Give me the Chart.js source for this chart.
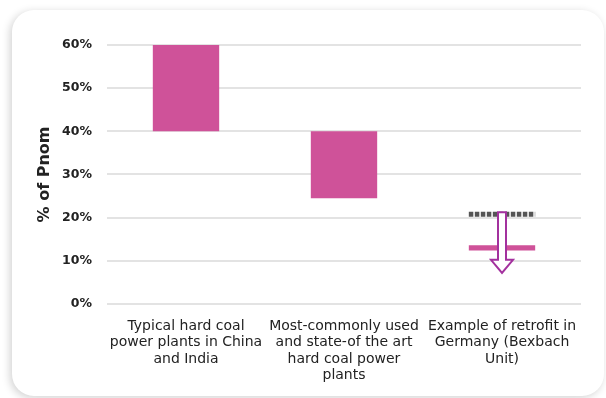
<!DOCTYPE html>
<html>
<head>
<meta charset="utf-8">
<script src="https://cdn.jsdelivr.net/npm/chart.js@4"></script>
<style>
  html, body { margin: 0; padding: 0; background: #ffffff; }
  body { width: 606px; height: 398px; position: relative; overflow: hidden; }
  .card {
    position: absolute; left: 12px; top: 10px; width: 592px; height: 386px;
    background: #fff; border-radius: 22px;
    box-shadow: -2px 2px 8px rgba(0,0,0,0.18);
  }
  #wrap { position: absolute; left: 0; top: 0; width: 606px; height: 398px; }
</style>
</head>
<body>
<div class="card"></div>
<div id="wrap"><canvas id="chart" width="606" height="398"></canvas></div>
<script>
// Categories and ranges (% of nominal power)
const categories = [
  ["Typical hard coal", "power plants in China", "and India"],
  ["Most-commonly used", "and state-of the art", "hard coal power", "plants"],
  ["Example of retrofit in", "Germany (Bexbach", "Unit)"]
];
const rangeLow  = [40, 24.5, 12.4];
const rangeHigh = [60, 40, 13.6];
// Retrofit example: previous minimum load level and arrow pointing down
const priorLevel = [null, null, 20.8];
const arrowTo    = [null, null, 7.2];
const yTicks = [0, 10, 20, 30, 40, 50, 60];

const PINK = '#cf5299';
const FONT = "'DejaVu Sans', sans-serif";

// Draws the dashed prior-level marker and the hollow downward arrow
const retrofitMarks = {
  id: 'retrofitMarks',
  afterDatasetsDraw(chart) {
    const ctx = chart.ctx;
    const y = chart.scales.y;
    const meta = chart.getDatasetMeta(0);
    priorLevel.forEach((lvl, i) => {
      if (lvl == null) return;
      const bar = meta.data[i];
      const half = bar.width / 2;
      const yl = y.getPixelForValue(lvl);
      ctx.save();
      ctx.strokeStyle = '#555555';
      ctx.lineWidth = 5;
      ctx.setLineDash([4.5, 1.5]);
      ctx.beginPath();
      ctx.moveTo(bar.x - half, yl);
      ctx.lineTo(bar.x + half, yl);
      ctx.stroke();
      ctx.restore();

      const yEnd = y.getPixelForValue(arrowTo[i]);
      const x = bar.x;
      const sw = 4, hw = 11, hh = 13;
      ctx.save();
      ctx.beginPath();
      ctx.moveTo(x - sw, yl - 2);
      ctx.lineTo(x - sw, yEnd - hh);
      ctx.lineTo(x - hw, yEnd - hh);
      ctx.lineTo(x, yEnd);
      ctx.lineTo(x + hw, yEnd - hh);
      ctx.lineTo(x + sw, yEnd - hh);
      ctx.lineTo(x + sw, yl - 2);
      ctx.closePath();
      ctx.fillStyle = '#ffffff';
      ctx.fill();
      ctx.strokeStyle = '#a3319e';
      ctx.lineWidth = 2;
      ctx.setLineDash([]);
      ctx.stroke();
      ctx.restore();
    });
  }
};

new Chart(document.getElementById('chart'), {
  type: 'bar',
  data: {
    labels: categories,
    datasets: [{
      data: rangeLow.map((lo, i) => [lo, rangeHigh[i]]),
      backgroundColor: PINK,
      borderWidth: 0,
      barPercentage: 0.42,
      categoryPercentage: 1
    }]
  },
  options: {
    responsive: false,
    animation: false,
    layout: { padding: { left: 31, right: 25, top: 45, bottom: 8 } },
    plugins: { legend: { display: false }, tooltip: { enabled: false } },
    scales: {
      x: {
        grid: { display: false },
        border: { display: false },
        afterFit: scale => { scale.paddingLeft = 0; scale.paddingRight = 0; },
        ticks: {
          color: '#222', maxRotation: 0, autoSkip: false, padding: 6,
          font: { family: FONT, size: 14, weight: '500', lineHeight: 1.18 }
        }
      },
      y: {
        min: 0, max: 60,
        afterBuildTicks: axis => { axis.ticks = yTicks.map(v => ({ value: v })); },
        afterFit: scale => { scale.width = 76; },
        grid: { color: '#e3e3e3', lineWidth: 2, drawTicks: false },
        border: { display: false },
        title: {
          display: true, text: '% of Pnom', color: '#222',
          font: { family: FONT, size: 16, weight: '600' }, padding: { top: 4, bottom: 8 }
        },
        ticks: {
          color: '#222', padding: 15,
          font: { family: FONT, size: 12.5, weight: '600' },
          callback: v => v + '%'
        }
      }
    }
  },
  plugins: [retrofitMarks]
});
</script>
</body>
</html>
